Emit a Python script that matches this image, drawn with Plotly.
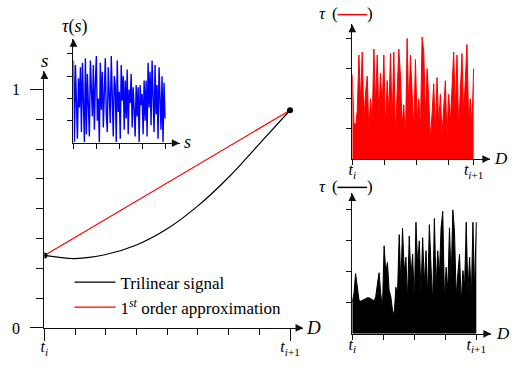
import numpy as np
import plotly.graph_objects as go

W, H = 513, 375
SERIF = "Liberation Serif, Times New Roman, serif"
INK = "#111111"

# ---------------- data ----------------
# main chart: trilinear signal along D (units of ticks, t_i = 0 .. t_{i+1} = 8)
curve_D = [0, 1, 2, 3, 4, 5, 6, 7, 8]
trilinear_s = [0.304, 0.291, 0.308, 0.348, 0.416, 0.512, 0.632, 0.772, 0.913]
approx_D = [0, 8]
approx_s = [0.304, 0.913]

# inset: tau(s)
blue_tau = [3.7, 0.05, 3.5, 1.1, 0.2, 2.9, 1.6, 3.4, 0.5, 3.6, 2.2, 0.05, 3.8, 0.4, 3.1, 1.8,
            0.3, 3.7, 2.4, 1.2, 3.5, 0.6, 2.7, 3.9, 1.0, 2.0, 0.05, 3.6, 1.5, 3.2, 0.7, 2.5,
            3.8, 1.3, 0.5, 3.4, 2.1, 0.9, 3.9, 1.7, 0.3, 3.0, 2.6, 0.05, 3.7, 1.4, 2.3, 0.2,
            3.5, 1.9, 3.0, 0.6, 2.8, 1.1, 3.3, 0.4, 2.4, 1.8, 3.1, 0.7, 2.5, 1.5, 0.3, 2.6,
            1.2, 2.5, 0.05, 2.6, 1.7, 2.2, 0.4, 2.8, 1.0, 2.8, 0.3, 3.6, 1.6, 3.2, 0.8, 3.7,
            2.0, 0.5, 3.5, 1.3, 2.6, 0.2, 3.4, 1.9, 0.6, 3.0, 0.05, 2.7, 1.1]
blue_end = 4.0

# top right: tau along D for the 1st order approximation (red)
red_tau = [2.8, 1.2, 1.1, 1.6, 3.45, 1.9, 3.55, 1.3, 2.2, 2.75, 0.9, 2.0, 1.2, 3.65, 1.8,
           3.45, 1.4, 2.85, 1.7, 3.45, 1.0, 2.6, 1.5, 3.5, 1.2, 3.55, 0.8, 2.4, 3.65, 2.75,
           1.1, 1.8, 0.6, 4.0, 1.6, 3.45, 2.3, 0.9, 3.3, 1.3, 2.0, 1.0, 4.05, 3.55, 1.4,
           3.0, 2.0, 0.7, 1.5, 2.5, 0.9, 2.7, 1.1, 2.15, 0.8, 1.9, 2.6, 0.7, 2.15, 1.2,
           2.4, 3.55, 1.6, 3.45, 1.0, 2.3, 3.5, 1.4, 2.6, 3.8, 1.2, 2.0, 1.1, 3.0]
red_end = 3.775

# bottom right: tau along D for the trilinear signal (black)
black_tau = [1.03, 1.3, 1.94, 1.5, 1.1, 1.05, 1.08, 1.12, 1.15, 1.16, 1.16, 1.14, 1.1, 1.05,
             1.2, 1.6, 1.97, 1.3, 0.8, 2.84, 2.0, 2.3, 1.4, 1.2, 0.77, 0.6, 1.5, 1.3, 3.2,
             1.6, 3.4, 2.0, 2.47, 1.1, 3.15, 1.8, 2.57, 1.0, 3.6, 2.2, 3.0, 1.3, 3.1, 1.6,
             2.68, 1.2, 3.52, 2.15, 1.0, 3.72, 1.5, 2.68, 1.9, 3.42, 3.95, 1.1, 2.15, 1.4,
             3.42, 1.7, 4.0, 3.3, 1.2, 1.94, 2.57, 1.0, 2.04, 1.5, 3.6, 1.3, 2.47, 1.1, 3.6,
             1.4, 3.6]
black_end = 4.0

TI = "<i>t</i><sub><i>i</i></sub>"
TI1 = "<i>t</i><sub><i>i</i>+1</sub>"


def px(x):
    return x / W


def py(y):
    return 1 - y / H


fig = go.Figure()

fig.add_trace(go.Scatter(x=curve_D, y=trilinear_s, mode="lines", name="Trilinear signal",
                         line=dict(color="black", width=1.2, shape="spline", smoothing=1.0),
                         xaxis="x", yaxis="y"))
fig.add_trace(go.Scatter(x=approx_D, y=approx_s, mode="lines",
                         name="1<sup><i>st</i></sup> order approximation",
                         line=dict(color="red", width=1.2), xaxis="x", yaxis="y"))
fig.add_trace(go.Scatter(x=[approx_D[0], approx_D[-1]], y=[approx_s[0], approx_s[-1]],
                         mode="markers", marker=dict(color="black", size=6),
                         showlegend=False, xaxis="x", yaxis="y"))

fig.add_trace(go.Scatter(x=np.linspace(0, blue_end, len(blue_tau)), y=blue_tau, mode="lines",
                         line=dict(color="#0000ff", width=1.4), showlegend=False,
                         xaxis="x2", yaxis="y2"))
fig.add_trace(go.Scatter(x=np.linspace(0, red_end, len(red_tau)), y=red_tau, mode="lines",
                         fill="tozeroy", fillcolor="#ff0000",
                         line=dict(color="#ff0000", width=1), showlegend=False,
                         xaxis="x3", yaxis="y3"))
fig.add_trace(go.Scatter(x=np.linspace(0, black_end, len(black_tau)), y=black_tau, mode="lines",
                         fill="tozeroy", fillcolor="#000000",
                         line=dict(color="#000000", width=1), showlegend=False,
                         xaxis="x4", yaxis="y4"))

tickfont = dict(family=SERIF, size=16, color="black")


def ax_common(**kw):
    d = dict(showline=True, linecolor=INK, linewidth=1.2, ticks="outside", tickcolor=INK,
             tickwidth=1.1, showgrid=False, zeroline=False, tickfont=tickfont, fixedrange=True)
    d.update(kw)
    return d


main_x_rng = [0, 8.433]
main_y_rng = [0, 1.0765]
ins_x_rng = [0, 4.638]
ins_y_rng = [0, 4.66]
red_x_rng = [0, 4.29]
red_y_rng = [0, 4.466]
blk_x_rng = [0, 4.48]
blk_y_rng = [0, 4.535]

fig.update_layout(
    xaxis=ax_common(domain=[px(40.7), px(301.7)], range=main_x_rng, anchor="y",
                    tickmode="array", tickvals=[0, 8], ticktext=[TI, TI1], ticklen=12,
                    ticklabelstandoff=-8,
                    minor=dict(tickvals=[1, 2, 3, 4, 5, 6, 7], ticklen=6, ticks="outside",
                               tickcolor=INK, tickwidth=1.1)),
    yaxis=ax_common(domain=[py(336), py(73)], range=main_y_rng, anchor="x",
                    tickmode="array", tickvals=[0, 1], ticktext=["0", "1"], ticklen=13,
                    ticklabelstandoff=7,
                    minor=dict(tickvals=[i / 8 for i in range(1, 8)], ticklen=7,
                               ticks="outside", tickcolor=INK, tickwidth=1.1)),
    xaxis2=ax_common(domain=[px(70), px(177)], range=ins_x_rng, anchor="y2",
                     tickmode="array", tickvals=[0, 1, 2, 3, 4], ticklen=5, showticklabels=False),
    yaxis2=ax_common(domain=[py(146.7), py(40)], range=ins_y_rng, anchor="x2",
                     tickmode="array", tickvals=[1, 2, 3, 4], ticklen=5, showticklabels=False),
    xaxis3=ax_common(domain=[px(351), px(490)], range=red_x_rng, anchor="y3",
                     tickmode="array", tickvals=[0, 1, 2, 3, red_end],
                     ticktext=[TI, "", "", "", TI1], ticklen=5, ticklabelstandoff=-9),
    yaxis3=ax_common(domain=[py(163), py(25)], range=red_y_rng, anchor="x3",
                     tickmode="array", tickvals=[1, 2, 3, 4], ticklen=5, showticklabels=False),
    xaxis4=ax_common(domain=[px(351), px(491)], range=blk_x_rng, anchor="y4",
                     tickmode="array", tickvals=[0, 1, 2, 3, black_end],
                     ticktext=[TI, "", "", "", TI1], ticklen=5, ticklabelstandoff=-9),
    yaxis4=ax_common(domain=[py(342), py(198)], range=blk_y_rng, anchor="x4",
                     tickmode="array", tickvals=[1, 2, 3, 4], ticklen=5, showticklabels=False),
)

annotations = []
# arrowheads on axis ends
for xr, yr, xrng, yrng in [("x", "y", main_x_rng, main_y_rng), ("x2", "y2", ins_x_rng, ins_y_rng),
                           ("x3", "y3", red_x_rng, red_y_rng), ("x4", "y4", blk_x_rng, blk_y_rng)]:
    annotations.append(dict(x=xrng[1], y=0, xref=xr, yref=yr, ax=-9, ay=0, text="",
                            showarrow=True, arrowhead=2, arrowsize=1.3, arrowwidth=1.2,
                            arrowcolor=INK, standoff=0))
    annotations.append(dict(x=0, y=yrng[1], xref=xr, yref=yr, ax=0, ay=9, text="",
                            showarrow=True, arrowhead=2, arrowsize=1.3, arrowwidth=1.2,
                            arrowcolor=INK, standoff=0))


def label(text, x, y, size=17, xanchor="center"):
    annotations.append(dict(text=text, x=px(x), y=py(y), xref="paper", yref="paper",
                            showarrow=False, xanchor=xanchor, yanchor="middle",
                            font=dict(family=SERIF, size=size, color="black")))


label("<i>s</i>", 40.7, 62, 19)
label("<i>D</i>", 312, 336, 19)
label("<i>τ</i>(<i>s</i>)", 71, 27, 18)
label("<i>s</i>", 185, 146, 18)
label("<i>D</i>", 501, 162, 17)
label("<i>D</i>", 503, 342, 17)
label("<i>τ</i>", 320.5, 14, 17)
label("(", 333.5, 14, 17)
label(")", 368.5, 14, 17)
label("<i>τ</i>", 320.5, 191, 17)
label("(", 333.5, 191, 17)
label(")", 368.5, 191, 17)

shapes = [
    dict(type="line", xref="paper", yref="paper", x0=px(336), x1=px(366), y0=py(15), y1=py(15),
         line=dict(color="red", width=1.5)),
    dict(type="line", xref="paper", yref="paper", x0=px(336), x1=px(366), y0=py(192), y1=py(192),
         line=dict(color="black", width=1.5)),
]

fig.update_layout(
    width=W, height=H, margin=dict(l=0, r=0, t=0, b=0),
    paper_bgcolor="white", plot_bgcolor="rgba(0,0,0,0)",
    annotations=annotations, shapes=shapes,
    showlegend=True,
    legend=dict(x=px(66), y=py(271), xanchor="left", yanchor="top", bgcolor="rgba(0,0,0,0)",
                font=dict(family=SERIF, size=17, color="black"), itemwidth=41,
                tracegroupgap=0),
    font=dict(family=SERIF),
)

# remove the default 8px page margin so the 513x375 figure fills the window exactly
fig.write_html("out.html", config={"displayModeBar": False},
               post_script="document.body.style.margin='0px';")
